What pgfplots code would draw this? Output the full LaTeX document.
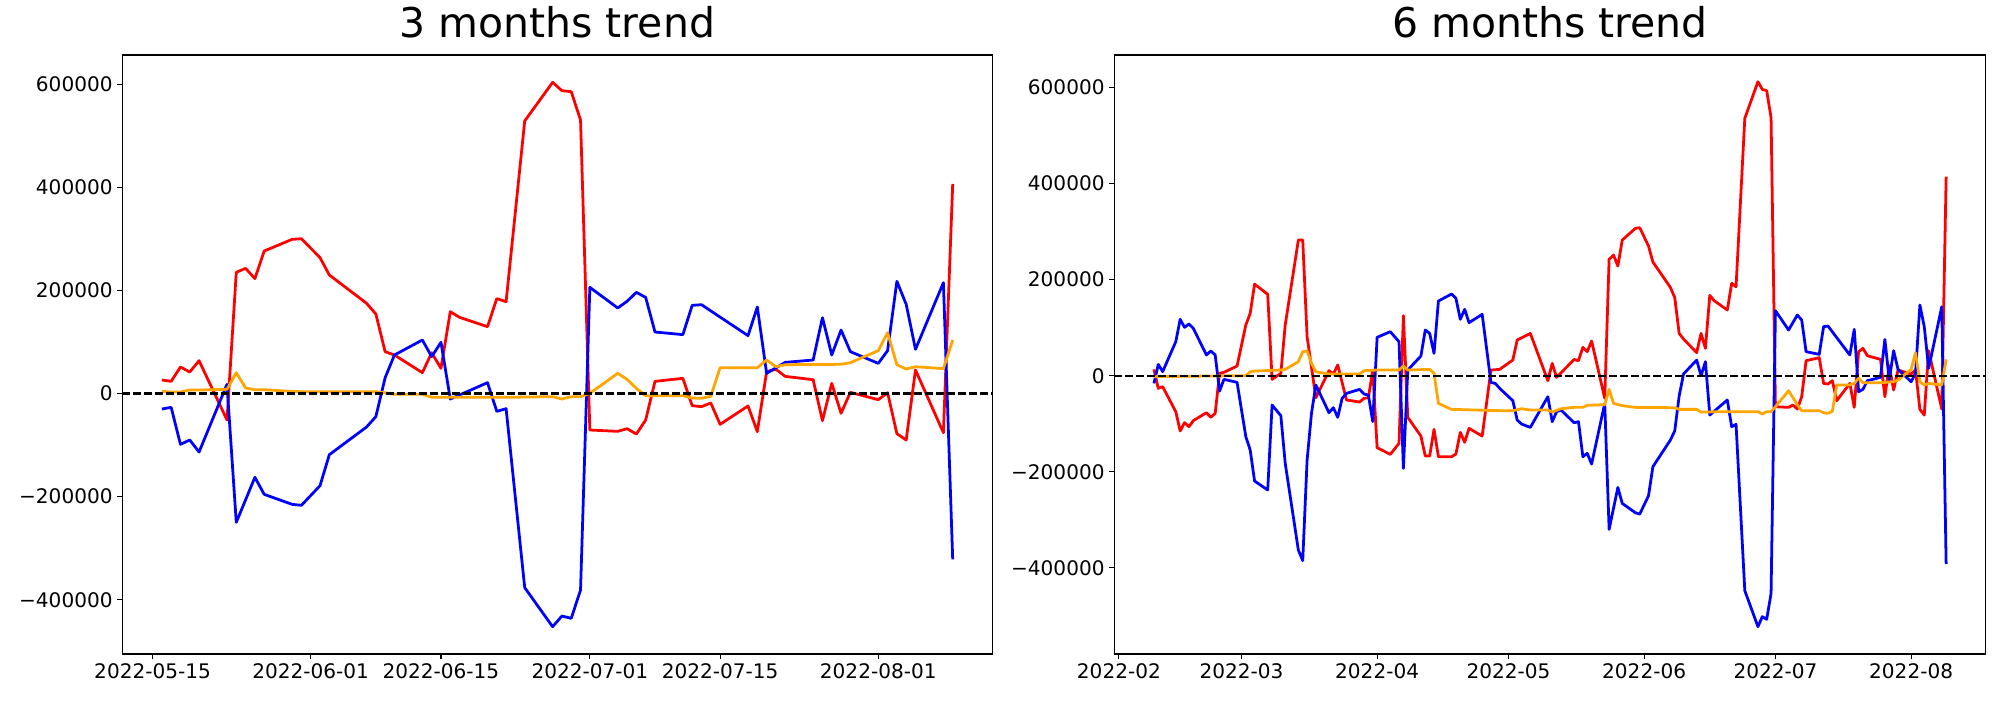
\documentclass[border=0pt]{standalone}
\usepackage{fontspec}
\setmainfont{DejaVu Sans}
\usepackage{pgfplots}
\pgfplotsset{compat=1.18}
\definecolor{mplorange}{RGB}{255,165,0}
\pgfplotsset{common/.style={
  scale only axis, height=432.9pt,
  axis line style={line width=0.8pt},
  tick align=outside, tick pos=left, major tick length=3.5pt,
  every tick/.style={black, line width=0.8pt},
  ticklabel style={font=\fontsize{14.5}{17}\selectfont},
  scaled y ticks=false, scaled x ticks=false,
  title style={font=\fontsize{29.6}{35}\selectfont, at={(0.5,1)}, anchor=base, yshift=6.5pt},
  axis background/.style={fill=white},
},
ser/.style={line width=2pt, line join=round}}
\begin{document}
\begin{tikzpicture}
\useasboundingbox (-88.39pt,-33.24pt) rectangle (1357.0pt,472.65pt);
\begin{axis}[common, at={(0pt,0pt)}, anchor=south west, width=628.7pt,
  xmin=-3.25, xmax=90.25, ymin=-505300, ymax=656600,
  xtick={0,17,31,47,61,78},
  xticklabels={2022-05-15,2022-06-01,2022-06-15,2022-07-01,2022-07-15,2022-08-01},
  ytick={-400000,-200000,0,200000,400000,600000},
  yticklabels={−400000,−200000,0,200000,400000,600000},
  title={3 months trend}]
\addplot[ser, red] coordinates {(1,26200)(2,23600)(3,51400)(4,41700)(5,63700)(8,-51400)(9,235000)(10,242800)(11,222800)(12,276400)(15,299000)(16,300300)(18,263500)(19,229900)(23,175000)(24,154200)(25,81100)(26,74700)(29,40400)(30,79200)(31,48800)(32,158700)(33,147700)(36,129600)(37,184000)(38,178100)(40,528600)(43,603600)(44,587400)(45,585500)(46,530500)(47,-70800)(50,-73400)(51,-68200)(52,-78600)(53,-51400)(54,23600)(57,29400)(58,-23600)(59,-25500)(60,-18400)(61,-59800)(64,-24200)(65,-74000)(66,42400)(67,47000)(68,33200)(71,26800)(72,-52700)(73,19700)(74,-38500)(75,2300)(78,-12000)(79,1600)(80,-77900)(81,-90200)(82,45600)(85,-76000)(86,406400)};
\addplot[ser, blue] coordinates {(1,-30100)(2,-26800)(3,-98600)(4,-90200)(5,-113500)(8,17800)(9,-249900)(11,-162600)(12,-195600)(15,-215000)(16,-216900)(18,-178800)(19,-118700)(23,-65000)(24,-44900)(25,30700)(26,74700)(29,103800)(30,71500)(31,99300)(32,-10700)(36,21000)(37,-34600)(38,-29400)(40,-376600)(43,-452300)(44,-431600)(45,-436100)(46,-381200)(47,205900)(50,165900)(51,178800)(52,196200)(53,186500)(54,119300)(57,114200)(58,171000)(59,172300)(64,112200)(65,167800)(66,39100)(68,60400)(71,65000)(72,147100)(73,74700)(74,123200)(75,81200)(78,58500)(79,83100)(80,217600)(81,173000)(82,85700)(85,215000)(86,-321700)};
\addplot[ser, mplorange] coordinates {(1,4200)(2,2900)(3,2900)(4,6800)(5,6800)(8,8100)(9,40400)(10,10700)(11,7400)(12,7400)(15,4000)(16,3500)(24,3500)(25,1600)(26,-1600)(29,-1600)(30,-7400)(38,-7400)(43,-6100)(44,-10700)(45,-6100)(46,-6100)(47,300)(50,39100)(51,27500)(52,10000)(53,-4200)(57,-4200)(58,-8700)(59,-9400)(60,-5500)(61,50100)(65,50100)(66,65000)(67,52000)(68,55900)(74,56600)(75,59800)(78,83100)(79,118000)(80,55900)(81,47500)(82,52000)(85,48200)(86,103800)};
\addplot[black, line width=1.5pt, dash pattern=on 5.55pt off 2.4pt] coordinates {(-3.25,0)(90.25,0)};
\end{axis}
\begin{axis}[common, at={(716.9pt,0pt)}, anchor=south west, width=629.8pt,
  xmin=-1.05, xmax=198.05, ymin=-579200, ymax=667400,
  xtick={0,28,59,89,120,150,181},
  xticklabels={2022-02,2022-03,2022-04,2022-05,2022-06,2022-07,2022-08},
  ytick={-400000,-200000,0,200000,400000,600000},
  yticklabels={−400000,−200000,0,200000,400000,600000},
  title={6 months trend}]
\addplot[ser, red] coordinates {(8,13200)(9,-26400)(10,-22900)(13,-75000)(14,-115100)(15,-97700)(16,-106100)(17,-93600)(20,-77000)(21,-86600)(22,-78300)(23,4900)(24,7000)(27,20100)(29,105500)(30,129800)(31,190700)(34,169300)(35,-7600)(37,4900)(38,105500)(41,282300)(42,282300)(43,81200)(45,-45900)(48,10400)(49,3500)(50,22300)(52,-50600)(55,-54800)(56,-47100)(57,-45800)(58,11700)(59,-149800)(62,-163700)(64,-140800)(65,124900)(66,-86700)(69,-125600)(70,-167200)(71,-167200)(72,-111700)(73,-168600)(76,-168600)(77,-163000)(78,-117900)(79,-138700)(80,-109600)(83,-125600)(85,11800)(87,13200)(90,32600)(91,74200)(94,88000)(98,-10400)(99,25700)(100,-3500)(104,33800)(105,31200)(106,59000)(107,50000)(108,72200)(111,-47100)(112,242200)(113,251100)(114,228300)(115,282300)(118,306600)(119,308000)(121,269800)(122,236600)(126,183800)(127,162300)(128,88100)(129,76300)(132,47900)(133,88100)(134,56900)(135,167200)(136,156100)(139,136700)(140,192200)(141,185200)(143,535600)(146,611900)(147,595900)(148,593100)(149,536900)(150,-64600)(153,-65900)(154,-61000)(155,-69400)(156,-43700)(157,31200)(160,37500)(161,-16000)(162,-17300)(163,-10400)(164,-52000)(167,-16000)(168,-65900)(169,50000)(170,56900)(171,41600)(174,34000)(175,-43700)(176,20800)(177,-29800)(178,11800)(181,3500)(182,11800)(183,-70100)(184,-81900)(185,52000)(188,-69400)(189,414200)};
\addplot[ser, blue] coordinates {(8,-16000)(9,23600)(10,8400)(13,70800)(14,117300)(15,100700)(16,107600)(17,98600)(20,43100)(21,51400)(22,43100)(23,-32000)(24,-7600)(27,-13900)(29,-126900)(30,-154700)(31,-219200)(34,-237900)(35,-61000)(37,-83200)(38,-182400)(41,-362800)(42,-385000)(43,-175500)(44,-78300)(45,-19400)(48,-77000)(49,-66600)(50,-86700)(51,-47100)(52,-36800)(55,-28400)(56,-38100)(57,-40200)(58,-95700)(59,79800)(62,91600)(64,70800)(65,-192900)(66,11800)(69,40900)(70,95200)(71,88100)(72,46500)(73,155400)(76,170000)(77,161000)(78,117300)(79,138100)(80,110400)(83,127700)(85,-13900)(86,-16000)(87,-26400)(90,-52000)(91,-92300)(92,-100600)(94,-107600)(98,-43700)(99,-95700)(100,-74900)(101,-71500)(104,-97800)(105,-95700)(106,-168600)(107,-161600)(108,-183800)(111,-57600)(112,-319900)(114,-232500)(115,-265800)(118,-285200)(119,-288000)(121,-249800)(122,-189400)(126,-133900)(127,-114500)(128,-42300)(129,3500)(132,32600)(133,0)(134,29200)(135,-81800)(139,-50600)(140,-106100)(141,-101300)(143,-447400)(146,-522300)(147,-501500)(148,-507000)(149,-453000)(150,135300)(153,95100)(155,126300)(156,115900)(157,50000)(160,44400)(161,102000)(162,103400)(167,43100)(168,96500)(169,-33400)(170,-28400)(171,-10400)(174,-3500)(175,75600)(176,-9000)(177,52000)(178,13200)(181,-12500)(182,4900)(183,147100)(184,102000)(185,15300)(188,143600)(189,-391900)};
\addplot[ser, mplorange] coordinates {(8,-2000)(27,0)(29,0)(30,8300)(31,9700)(37,11800)(38,13200)(41,29100)(42,50000)(43,51400)(44,25700)(45,8300)(48,3500)(55,3500)(56,10400)(59,11800)(64,11800)(65,20100)(66,11800)(71,13200)(72,4900)(73,-57600)(76,-70100)(87,-72800)(90,-72800)(92,-68700)(94,-71500)(98,-71500)(99,-75600)(101,-68700)(104,-65900)(106,-65900)(107,-61700)(111,-60300)(112,-28400)(113,-57600)(115,-62400)(118,-65900)(127,-66600)(128,-70100)(132,-70100)(133,-75600)(139,-74900)(146,-74900)(147,-79700)(148,-74900)(149,-74900)(150,-64600)(153,-31300)(155,-60300)(156,-72800)(160,-72800)(161,-77000)(162,-78300)(163,-74200)(164,-19400)(167,-19400)(168,-16000)(169,-5500)(170,-14600)(174,-14600)(177,-12500)(178,-9000)(181,13200)(182,47900)(183,-12500)(184,-19400)(185,-16000)(188,-19400)(189,34000)};
\addplot[black, line width=1.5pt, dash pattern=on 5.55pt off 2.4pt] coordinates {(-1.05,0)(198.05,0)};
\end{axis}
\end{tikzpicture}
\end{document}
